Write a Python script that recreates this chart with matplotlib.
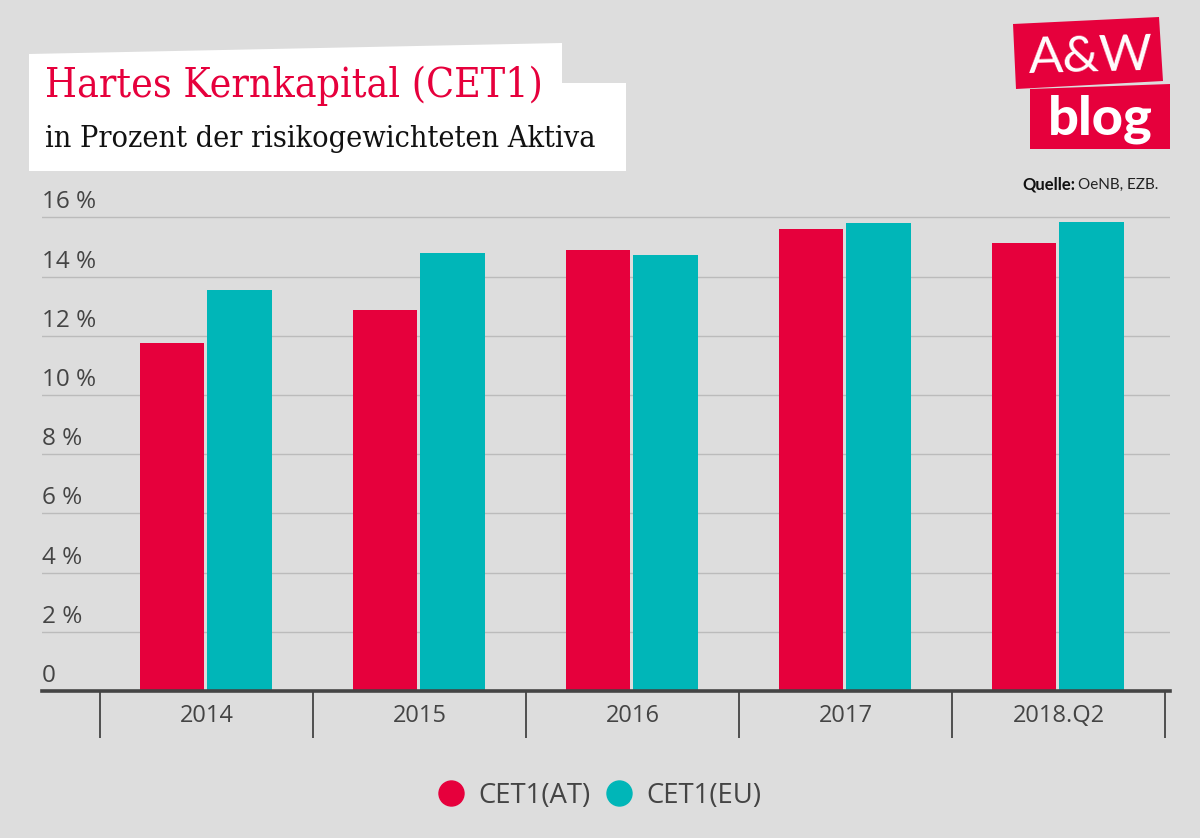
import matplotlib
matplotlib.use('Agg')
from matplotlib import pyplot as plt
from matplotlib.lines import Line2D
from matplotlib.patches import Polygon
from matplotlib.transforms import ScaledTranslation
import numpy as np

years = ["2014", "2015", "2016", "2017", "2018.Q2"]
cet1_at = [11.75, 12.87, 14.9, 15.6, 15.13]
cet1_eu = [13.55, 14.8, 14.72, 15.8, 15.85]
y_ticks = [0, 2, 4, 6, 8, 10, 12, 14, 16]
y_labels = ["0", "2 %", "4 %", "6 %", "8 %", "10 %", "12 %", "14 %", "16 %"]

RED = '#e6003c'
TEAL = '#00b6b8'
BG = '#dddddd'
W, H = 1200., 838.
SANS = 'Open Sans'
SLAB = 'DejaVu Serif'

def fx(px):
    return px / W

def fy(px):
    return 1. - px / H

def poly(pts, color):
    fig.patches.append(Polygon([(fx(a), fy(b)) for a, b in pts], closed=True, facecolor=color,
                               edgecolor='none', transform=fig.transFigure))

fig = plt.figure(figsize=(12, 8.38), dpi=100, facecolor=BG)

# axes box runs from the axis line up past the 16 % grid line
ax = fig.add_axes([fx(42), fy(691), fx(1170 - 42), (691 - 205) / H], facecolor='none')
x = np.arange(len(years))
ax.bar(x - 0.16, cet1_at, 0.3, color=RED, zorder=3)
ax.bar(x + 0.154, cet1_eu, 0.303, color=TEAL, zorder=3)

ax.set_xlim((42 - 206.5) / 213., (1170 - 206.5) / 213.)
ax.set_ylim(0, (691 - 205) / 29.6)
for s in ['top', 'left', 'right']:
    ax.spines[s].set_visible(False)
ax.spines['bottom'].set_color('#444444')
ax.spines['bottom'].set_linewidth(2.6)
ax.spines['bottom'].set_zorder(4)

ax.set_yticks(y_ticks)
ax.set_yticklabels(y_labels, fontsize=17.5, color='#444444', family=SANS)
ax.tick_params(axis='y', length=0, pad=0)
ax.yaxis.grid(True, color='#bbbbbb', linewidth=1.0, zorder=1)
ax.set_axisbelow(True)
shift = ScaledTranslation(0, 3 / 100., fig.dpi_scale_trans)
for lab in ax.get_yticklabels():
    lab.set_horizontalalignment('left')
    lab.set_verticalalignment('bottom')
    lab.set_transform(lab.get_transform() + shift)

# year labels sit between separators hanging below the axis
ax.set_xticks(x)
ax.set_xticklabels(years, fontsize=17, color='#444444', family=SANS)
ax.tick_params(axis='x', which='major', length=0, pad=9)
ax.set_xticks(np.arange(len(years) + 1) - 0.5, minor=True)
ax.tick_params(axis='x', which='minor', length=34, width=1.3, color='#444444')

handles = [Line2D([], [], linestyle='none', marker='o', markersize=18, color=RED),
           Line2D([], [], linestyle='none', marker='o', markersize=18, color=TEAL)]
fig.legend(handles, ["CET1(AT)", "CET1(EU)"], loc='center', bbox_to_anchor=(fx(598), fy(796)), ncol=2,
           frameon=False, handlelength=1.2, handletextpad=0.4, columnspacing=0.45, labelcolor='#444444',
           prop={'family': SANS, 'size': 19.8})

# title block
poly([(29, 54), (562, 43), (562, 83), (626, 83), (626, 171), (29, 171)], 'white')
fig.text(fx(45), fy(97), "Hartes Kernkapital (CET1)", color=RED, fontsize=29.3, family=SLAB,
         stretch='condensed', va='baseline', ha='left')
fig.text(fx(45), fy(147), "in Prozent der risikogewichteten Aktiva", color='#111111', fontsize=21.9, family=SLAB,
         stretch='condensed', va='baseline', ha='left')

# logo
poly([(1013, 24), (1159, 17), (1163, 81), (1016, 89)], RED)
poly([(1030, 89), (1170, 84), (1170, 149), (1030, 149)], RED)
fig.text(fx(1091), fy(73), "A&W", color='white', fontsize=37, family='Lato', rotation=1.5,
         ha='center', va='baseline')
fig.text(fx(1100), fy(134), "blog", color='white', fontsize=39, family='Lato', weight='black',
         ha='center', va='baseline')

# source
fig.text(fx(1022), fy(189), "Quelle:", color='#111111', fontsize=12, family='Lato', weight='bold',
         va='baseline', ha='left')
fig.text(fx(1078), fy(189), "OeNB, EZB.", color='#222222', fontsize=11, family='Lato',
         va='baseline', ha='left')

fig.savefig('out.png', dpi=100, facecolor=BG)
